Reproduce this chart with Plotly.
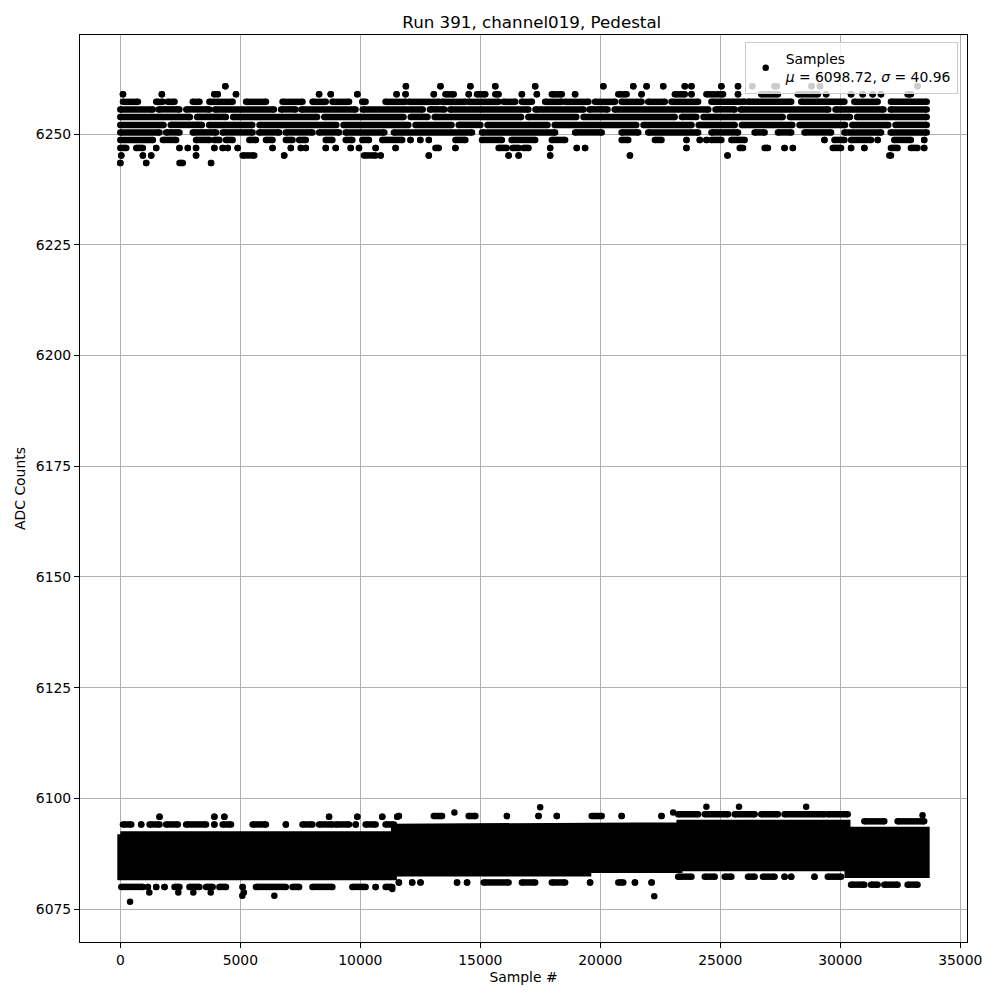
import plotly.graph_objects as go

# ---------------- data ----------------
TITLE = "Run 391, channel019, Pedestal"
X_LABEL = "Sample #"
Y_LABEL = "ADC Counts"
LEGEND_NAME = "Samples<br><i>μ</i> = 6098.72, <i>σ</i> = 40.96"

x_tick_vals = [0, 5000, 10000, 15000, 20000, 25000, 30000, 35000]
x_tick_labels = ["0", "5000", "10000", "15000", "20000", "25000", "30000", "35000"]
y_tick_vals = [6075, 6100, 6125, 6150, 6175, 6200, 6225, 6250]
y_tick_labels = ["6075", "6100", "6125", "6150", "6175", "6200", "6225", "6250"]
x_range = [-1680, 35280]
y_range = [6067.55, 6272.4]

# Upper (high-pedestal) samples: ADC level -> runs of samples [first, last] or single sample
up_levels = [6260.8, 6259.0, 6257.3, 6255.6, 6253.9, 6252.1, 6250.4, 6248.7, 6246.9, 6245.2, 6243.5]
up_6260_8 = [4376, 11900, 13340, 14586, 15625, 17287, 20127, 21374, 21928, 22621, 23521, 23799,
             25046, 25738, 26333, 27262, 27350, 28800, 29154, 33220]
up_6259_0 = [110, 1730, 3919, 4058, 4819, 8283, 8768, 9876, 11511, 11885, 13062, [13547, 13893],
             14517, [14863, 15209], [15625, 15763], 16733, 17357, [17980, 18396], 18950,
             [20750, 21097], 21720, [23106, 23521], 23799, [24422, 25115], 25738, [26708, 27401],
             [28232, 29063], 29410, 30449, 30934, 31349, 31695, [32804, 32942]]
up_6257_3 = [[110, 732], [1495, 1770], [1980, 2260], [3020, 3300], [3710, 4680], [5240, 6070],
             [6760, 7590], [8010, 8560], [8840, 9530], [10080, 10220], [11050, 11885],
             [12023, 13270], [13408, 14378], [14517, 15763], [15971, 16456], [16733, 17149],
             [17703, 18396], [18534, 19504], [19781, 20612], [20889, 21720], [21997, 22690],
             [22967, 24076], [24630, 26016], [26154, 27955], [28371, 30172], [30587, 31557],
             [32111, 33600]]
up_6255_6 = [[0, 1350], [1600, 2460], [2750, 3710], [3950, 6400], [6700, 7300], [7550, 9800],
             [10100, 12600], [12900, 13500], [13750, 17000], [17300, 19300], [19550, 20300],
             [20600, 24500], [24800, 25600], [25850, 29500], [29800, 31800], [32100, 33600]]
up_6253_9 = [[0, 2900], [3200, 4400], [4700, 8200], [8500, 11800], [12100, 12800],
             [13100, 16700], [17000, 19000], [19300, 23100], [23400, 24000], [24300, 27600],
             [27900, 30400], [30700, 33600]]
up_6252_1 = [[0, 1800], [2100, 3400], [3700, 5500], [5800, 9000], [9300, 12000],
             [12300, 13800], [14100, 15000], [15300, 17800], [18100, 21500], [21800, 23800],
             [24100, 25600], [25900, 28000], [28300, 30200], [30500, 32000], [32300, 33600]]
up_6250_4 = [[0, 1633], [1910, 2465], [3018, 3988], [4265, 5512], [5789, 6620], [6897, 8006],
             [8283, 9114], [9391, 11000], [11400, 14655], [15071, 18118], [18950, 20058],
             [20889, 21582], [21997, 24076], [24630, 25738], [26431, 26847], [27401, 27955],
             [28509, 29617], [30172, 31700], [32100, 33600]]
up_6248_7 = [[0, 1356], [1772, 2326], [3157, 3711], [3919, 4127], [4404, 4681], [5374, 5651],
             [6066, 6343], [6897, 7175], [7452, 7729], [8560, 8837], [9391, 9668],
             [10084, 10361], [10915, 11746], 12092, 12500, 12854, [13963, 14378],
             [15071, 15900], [16300, 17287], [17980, 18534], [20889, 21166], [22274, 22551],
             23591, 24145, 24422, [24630, 25046], [25461, 26016], 29340, [29756, 30172],
             [30449, 31280], 31557, [32249, 32942], 33496]
up_6246_9 = [[0, 248], [663, 941], 1495, 2465, 2811, 3157, 3919, 4265, 4473, 4889, 6343, 7105,
             7521, 7729, 8560, 8975, 9599, 9945, 10638, 11469, [13131, 13270], 13963,
             [15763, 16100], [16350, 16600], [16800, 17010], 17911, 19019, 19365, 23590,
             [25808, 25946], [26847, 26985], 27678, 28024, [29687, 30033], 30449, 31003,
             [32111, 32388], [32942, 33219], 33496]
up_6245_2 = [40, 941, 1287, 3157, [5096, 5581], 6828, [10153, 10638], 10846, 12854, 16179,
             16595, 17911, 21235, 25300, [32042, 32111]]
up_6243_5 = [0, 1079, [2465, 2603], 3781]
up_rows = [up_6260_8, up_6259_0, up_6257_3, up_6255_6, up_6253_9, up_6252_1, up_6250_4,
           up_6248_7, up_6246_9, up_6245_2, up_6243_5]

# Lower (main pedestal) samples: dense core envelope per sample range (dot centres)
core_start = [0, 11400, 19500, 23300, 30300]
core_end = [11400, 19500, 23300, 30300, 33600]
core_top = [6091.9, 6093.6, 6093.9, 6094.5, 6092.9]
core_bottom = [6082.2, 6083.0, 6083.8, 6084.2, 6082.7]

# Lower band edge rows
low_levels = [6095.85, 6094.1, 6096.0, 6096.4, 6094.8, 6080.0, 6081.0, 6082.3, 6080.5]
low_6095_85 = [1633, 3919, 4335, 8698, 9876, 10915, 11539]
low_6094_1 = [[110, 456], 871, [1218, 1633], [1910, 2395], [2742, 3573], 3919, [4265, 4612],
              [5512, 6066], 6897, [7590, 8006], [8283, 8837], [8975, 9530], 9807,
              [10222, 10638], [11054, 11400]]
low_6096_0 = [11608, [13062, 13408], [14517, 14794], 16110, 17426, 18188, [19642, 20058],
              20889, 22551]
low_6096_4 = [[23245, 24076], [24353, 25323], [25600, 26431], [26708, 27401], [27678, 29340],
              [29479, 30310]]
low_6094_8 = [[31003, 31834], [32388, 33496]]
low_6080_0 = [[40, 941], 1149, 1495, 1841, [2257, 2465], [2880, 3296], [3573, 3850],
              [4127, 4404], 5096, [5651, 6897], [7175, 7452], [8006, 8837], [9668, 10222],
              10638, [11054, 11330]]
low_6081_0 = [11608, 12162, 12508, 14032, 14448, [15140, 16179], [16733, 17287],
              [17980, 18534], 19573, [20750, 20958], 21443, 22136]
low_6082_3 = [[23245, 23799], [24353, 24769], [25184, 25461], [26154, 26431], [26777, 27262],
              27678, 27955, 28925, [29479, 30033]]
low_6080_5 = [[30449, 31003], [31280, 31557], [31834, 32388], [32804, 33219]]
low_rows = [low_6095_85, low_6094_1, low_6096_0, low_6096_4, low_6094_8, low_6080_0,
            low_6081_0, low_6082_3, low_6080_5]

# Isolated samples
single_x = [406, 1208, 2417, 3042, 3767, 5150, 5083, 6417, 22247, 11330, 13921, 17495,
            23036, 24422, 25780, 28578, 33427]
single_y = [6076.65, 6078.75, 6078.75, 6078.75, 6078.75, 6078.75, 6078.0, 6078.0, 6077.9,
            6079.5, 6096.8, 6098.0, 6096.8, 6098.1, 6098.1, 6098.1, 6096.2]

# ---------------- figure ----------------
DOT = 6.5
FONT = "DejaVu Sans"
PAGE_OFFSET = 8  # browser body margin shifts the figure by 8 px


def runs_to_xy(levels, rows):
    xs, ys = [], []
    for lvl, row in zip(levels, rows):
        for item in row:
            if isinstance(item, list):
                a, b = item
            else:
                a = b = item
            xs += [a, b, None]
            ys += [lvl, lvl, None]
    return xs, ys


fig = go.Figure()

# dense core of the main pedestal
poly_x, poly_y = [], []
for s, e, t in zip(core_start, core_end, core_top):
    poly_x += [s, e]
    poly_y += [t, t]
for s, e, b in reversed(list(zip(core_start, core_end, core_bottom))):
    poly_x += [e, s]
    poly_y += [b, b]
poly_x.append(poly_x[0])
poly_y.append(poly_y[0])
fig.add_trace(go.Scatter(x=poly_x, y=poly_y, mode="lines", fill="toself",
                         fillcolor="black", line=dict(color="black", width=6),
                         showlegend=False, hoverinfo="skip"))

ux, uy = runs_to_xy(up_levels, up_rows)
lx, ly = runs_to_xy(low_levels, low_rows)
fig.add_trace(go.Scatter(x=ux + lx, y=uy + ly, mode="lines+markers",
                         line=dict(color="black", width=DOT),
                         marker=dict(color="black", size=DOT),
                         connectgaps=False, showlegend=False))

fig.add_trace(go.Scatter(x=single_x, y=single_y, mode="markers", name=LEGEND_NAME,
                         marker=dict(color="black", size=DOT)))

axis_common = dict(showline=True, mirror=True, linecolor="black", linewidth=1.1,
                   ticks="outside", ticklen=5, tickwidth=1.1, tickcolor="black",
                   showgrid=True, gridcolor="#b0b0b0", gridwidth=1.1, zeroline=False,
                   automargin=False,
                   tickfont=dict(family=FONT, size=13.9, color="black"))

L, T, W, H = 80 - PAGE_OFFSET, 35 - PAGE_OFFSET, 887, 907
fig.update_layout(
    width=1000, height=1000,
    margin=dict(l=L, r=1000 - L - W, t=T, b=1000 - T - H, autoexpand=False),
    paper_bgcolor="white", plot_bgcolor="white",
    font=dict(family=FONT, size=13.9, color="black"),
    title=dict(text=TITLE, x=0.5238, xanchor="center", y=1 - (21.7 - PAGE_OFFSET) / 1000,
               yanchor="middle", yref="container",
               font=dict(family=FONT, size=16.7, color="black")),
    xaxis=dict(range=x_range, tickmode="array", tickvals=x_tick_vals, ticktext=x_tick_labels,
               title=dict(text=X_LABEL, standoff=5, font=dict(family=FONT, size=13.9)),
               **axis_common),
    yaxis=dict(range=y_range, tickmode="array", tickvals=y_tick_vals, ticktext=y_tick_labels,
               title=dict(text=Y_LABEL, standoff=6, font=dict(family=FONT, size=13.9)),
               **axis_common),
    legend=dict(x=0.9895, y=0.992, xanchor="right", yanchor="top",
                bgcolor="rgba(255,255,255,0.8)", bordercolor="#cccccc", borderwidth=1,
                font=dict(family=FONT, size=13.9, color="black"), valign="middle"),
    showlegend=True,
)

fig.write_html("out.html")
